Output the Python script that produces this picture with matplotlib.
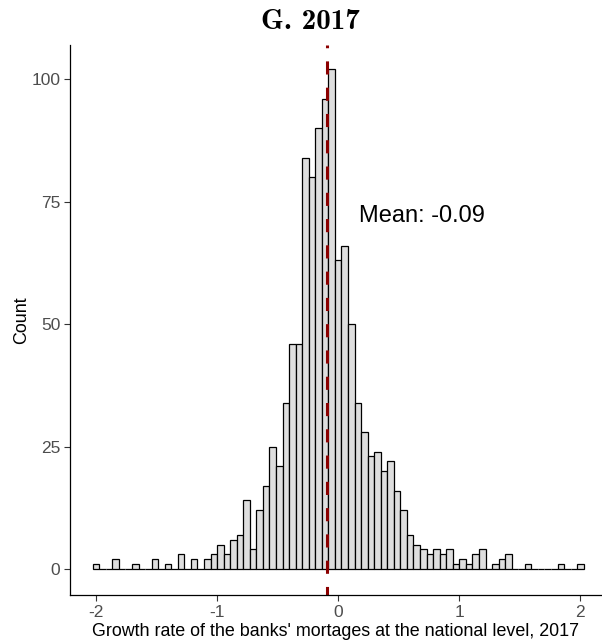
import os
import numpy as np
import matplotlib
matplotlib.use('Agg')
import matplotlib.pyplot as plt
from matplotlib.font_manager import FontProperties

# counts per bin, 75 bins centred from -2 to 2
counts = [1, 0, 0, 2, 0, 0, 1, 0, 0, 2,
          0, 1, 0, 3, 0, 2, 0, 2, 3, 5,
          3, 6, 7, 14, 4, 12, 17, 25, 21, 34,
          46, 46, 84, 80, 90, 96, 102, 63, 66, 50,
          34, 28, 23, 24, 20, 22, 16, 12, 7, 5,
          4, 3, 4, 3, 4, 1, 2, 1, 3, 4,
          0, 1, 2, 3, 0, 0, 1, 0, 0, 0,
          0, 1, 0, 0, 1]
x_min, x_max = -2.0, 2.0
mean_val = -0.09
x_ticks = [-2, -1, 0, 1, 2]
y_ticks = [0, 25, 50, 75, 100]

plt.rcParams['axes.unicode_minus'] = False
plt.rcParams['font.family'] = ['Liberation Sans', 'DejaVu Sans']

n = len(counts)
width = (x_max - x_min) / (n - 1)
centers = np.linspace(x_min, x_max, n)

fig = plt.figure(figsize=(6.02, 6.41), dpi=100)
ax = fig.add_axes([70 / 602, 46 / 641, 531 / 602, 550 / 641])

ax.bar(centers, counts, width=width, color='#DEDEDE', edgecolor='black', linewidth=0.9)
ax.axvline(mean_val, color='#8B0000', linewidth=2.2, linestyle=(1.5, (4.3, 4.3)))
ax.text(0.17, 72, 'Mean: -0.09', fontsize=17, ha='left', va='center')

ax.set_xlim(-2.215, 2.17)
ax.set_ylim(-5.3, 107)
ax.set_xticks(x_ticks)
ax.set_xticklabels([str(t) for t in x_ticks])
ax.set_yticks(y_ticks)
ax.tick_params(labelsize=12.5, labelcolor='#4D4D4D', color='#333333', length=4, width=0.8, pad=3)
for s in ['top', 'right']:
    ax.spines[s].set_visible(False)
for s in ['left', 'bottom']:
    ax.spines[s].set_linewidth(0.9)

ax.set_xlabel("Growth rate of the banks' mortages at the national level, 2017", fontsize=12.9, labelpad=2)
ax.set_ylabel('Count', fontsize=12.9, labelpad=1)

cmb = os.path.join(matplotlib.get_data_path(), 'fonts', 'ttf', 'cmb10.ttf')
title_font = FontProperties(fname=cmb, size=21)
fig.text(310 / 602, 1 - 22 / 641, 'G. 2017', fontproperties=title_font, ha='center', va='center')

plt.savefig('out.png', dpi=100)
